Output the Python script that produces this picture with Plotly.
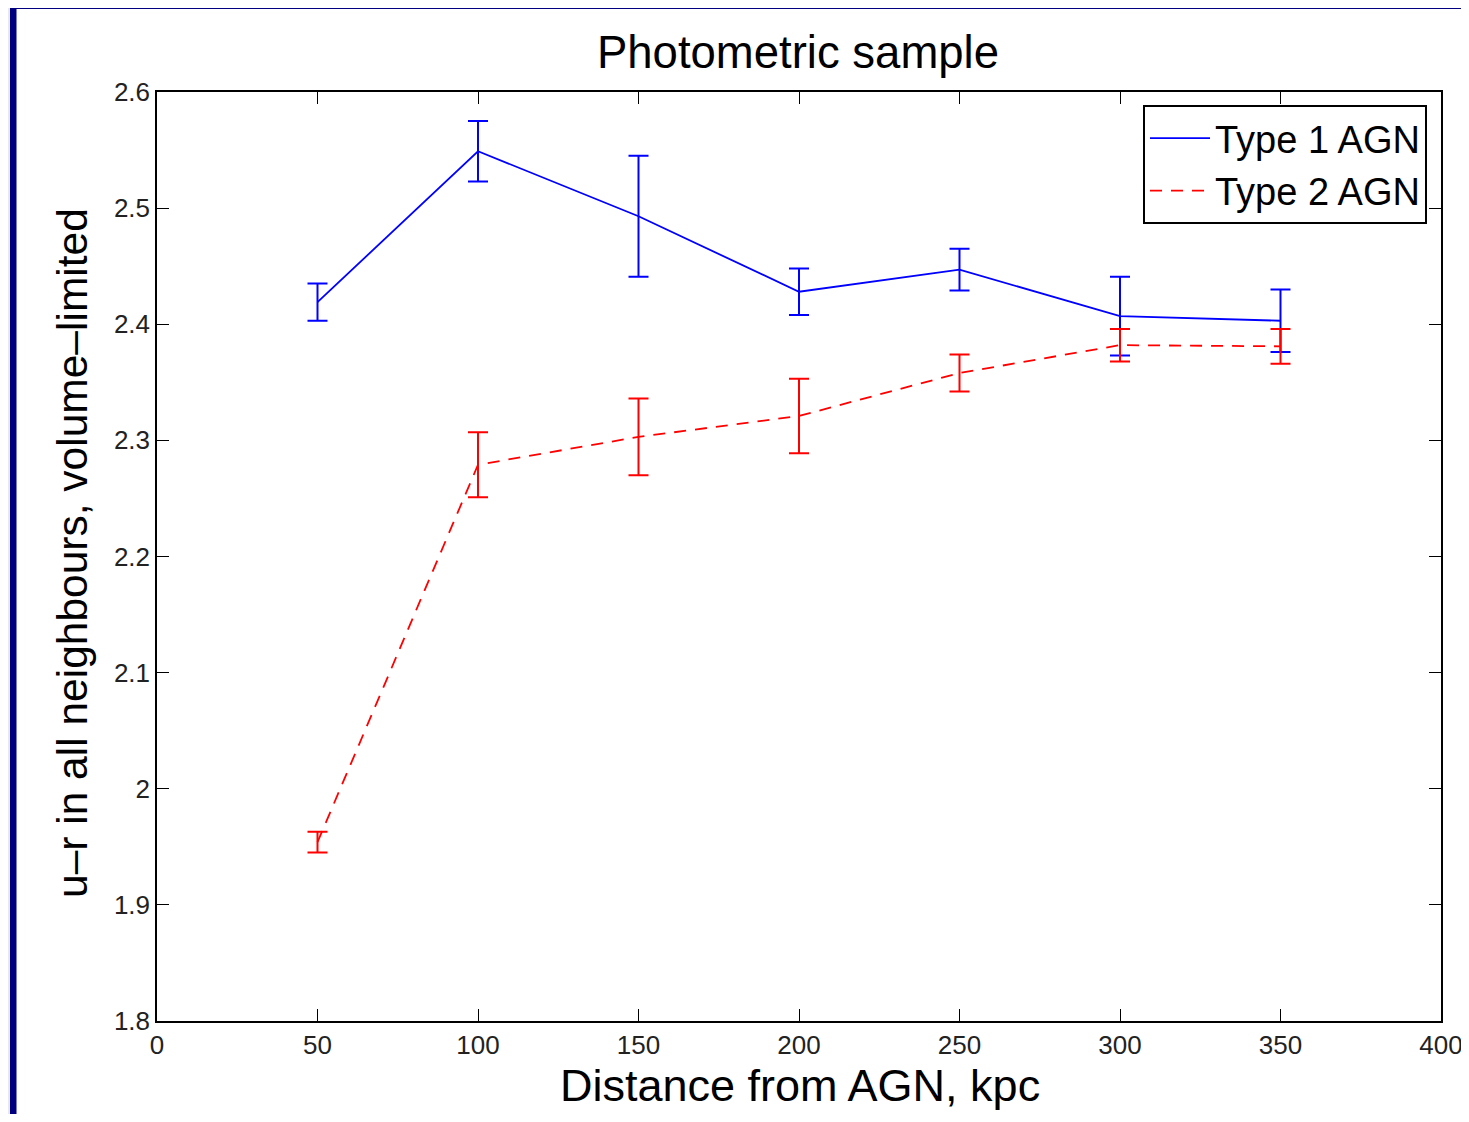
import plotly.graph_objects as go

# ---- data ----
distance_kpc = [50, 100, 150, 200, 250, 300, 350]

type1_ur = [2.419, 2.549, 2.493, 2.428, 2.447, 2.407, 2.403]
type1_err = [0.016, 0.026, 0.052, 0.020, 0.018, 0.034, 0.027]

type2_ur = [1.954, 2.279, 2.303, 2.321, 2.358, 2.382, 2.381]
type2_err = [0.009, 0.028, 0.033, 0.032, 0.016, 0.014, 0.015]

x_ticks = [0, 50, 100, 150, 200, 250, 300, 350, 400]
y_ticks = [1.8, 1.9, 2.0, 2.1, 2.2, 2.3, 2.4, 2.5, 2.6]
y_ticktext = ["1.8", "1.9", "2", "2.1", "2.2", "2.3", "2.4", "2.5", "2.6"]

# ---- layout geometry (pixels in the page; body margin offsets the figure) ----
OFF = 8
PAGE_W, PAGE_H = 1469, 1122
W, H = PAGE_W - OFF, PAGE_H - 2 * OFF
L, R, T, B = 157, 1441, 92, 1021   # page coordinates of plot area
pw, ph = R - L, B - T


def px_x(p):
    return (p - L) / pw


def px_y(p):
    return (B - p) / ph


FONT = "Liberation Sans, Arial, Helvetica, sans-serif"

fig = go.Figure()
fig.add_trace(go.Scatter(
    x=distance_kpc, y=type1_ur, mode="lines", name="Type 1 AGN",
    line=dict(color="#0000ff", width=1.8),
    error_y=dict(type="data", array=type1_err, visible=True,
                 color="#0000ff", thickness=2, width=10),
))
fig.add_trace(go.Scatter(
    x=distance_kpc, y=type2_ur, mode="lines", name="Type 2 AGN",
    line=dict(color="#ff0000", width=1.8, dash="12px,9px"),
    error_y=dict(type="data", array=type2_err, visible=True,
                 color="#ff0000", thickness=2, width=10),
))

axis_common = dict(
    showline=True, linecolor="black", linewidth=1.5, mirror="ticks",
    ticks="inside", ticklen=12, tickwidth=1.3, tickcolor="black",
    showgrid=False, zeroline=False, automargin=False,
    ticklabeloverflow="allow",
    tickfont=dict(family=FONT, size=26, color="#222222"),
)

fig.update_xaxes(range=[0, 400], tickvals=x_ticks, **axis_common)
fig.update_yaxes(range=[1.8, 2.6], tickvals=y_ticks, ticktext=y_ticktext,
                 **axis_common)

shapes = [
    # light gray outer strips
    dict(type="rect", xref="paper", yref="paper", x0=px_x(0), x1=px_x(10),
         y0=px_y(PAGE_H + 5), y1=px_y(0), fillcolor="#e9e9ec", line=dict(width=0)),
    dict(type="rect", xref="paper", yref="paper", x0=px_x(0), x1=px_x(PAGE_W + 5),
         y0=px_y(2), y1=px_y(0), fillcolor="#e9e9ec", line=dict(width=0)),
    # navy frame
    dict(type="rect", xref="paper", yref="paper", x0=px_x(10), x1=px_x(16.5),
         y0=px_y(PAGE_H + 5), y1=px_y(2), fillcolor="#000080", line=dict(width=0)),
    dict(type="rect", xref="paper", yref="paper", x0=px_x(10), x1=px_x(PAGE_W + 5),
         y0=px_y(9), y1=px_y(2), fillcolor="#000080", line=dict(width=0)),
]

annotations = [
    dict(text="Distance from AGN, kpc", xref="paper", yref="paper",
         x=px_x(800), y=px_y(1085), xanchor="center", yanchor="middle",
         showarrow=False, font=dict(family=FONT, size=45, color="black")),
    dict(text="u\u2013r in all neighbours, volume\u2013limited", xref="paper",
         yref="paper", x=px_x(72), y=px_y(553), xanchor="center",
         yanchor="middle", textangle=-90, showarrow=False,
         font=dict(family=FONT, size=42.5, color="black")),
]

fig.update_layout(
    width=W, height=H,
    margin=dict(l=L - OFF, r=(W + OFF) - R, t=T - OFF, b=H - (B - OFF), pad=0),
    paper_bgcolor="white", plot_bgcolor="white",
    title=dict(text="Photometric sample", x=(798 - OFF) / W,
               xanchor="center", y=1 - (52 - OFF) / H, yanchor="middle",
               font=dict(family=FONT, size=45.5, color="black")),
    legend=dict(x=px_x(1427), y=px_y(105), xanchor="right", yanchor="top",
                bordercolor="black", borderwidth=2, bgcolor="white",
                font=dict(family=FONT, size=38, color="black"),
                itemwidth=60, tracegroupgap=0),
    shapes=shapes, annotations=annotations, showlegend=True,
)

fig.write_html("out.html")
